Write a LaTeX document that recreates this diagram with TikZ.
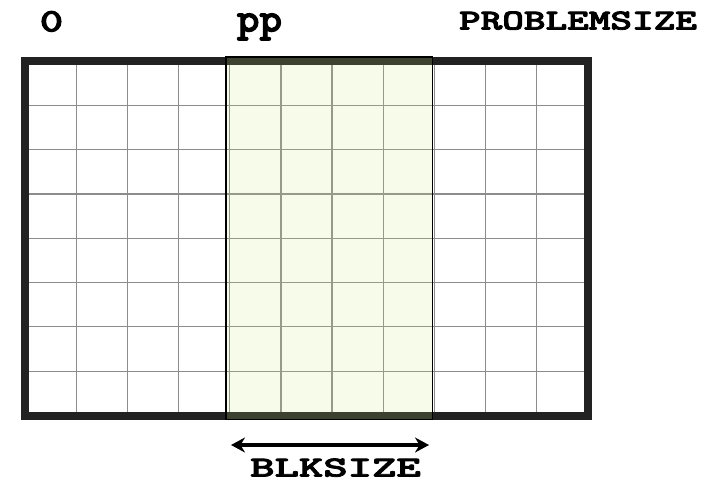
\documentclass[tikz,border=0pt]{standalone}
\usepackage{fontspec}
\usepackage{graphicx}
\newfontfamily\lmb{lmmonolt10-bold}[Extension=.otf, FakeBold=2.5]
\usetikzlibrary{arrows.meta}
\definecolor{frame}{HTML}{222222}
\definecolor{gridc}{HTML}{8C8C8C}
\definecolor{hl}{RGB}{203,229,119}
\newcommand{\wlbl}[2]{\scalebox{#1}[1]{#2}}
\tikzset{
  lbl/.style={inner sep=0pt, anchor=base, font=\lmb\fontsize{29}{29}\selectfont},
  lblbig/.style={inner sep=0pt, anchor=base, font=\lmb\fontsize{33}{33}\selectfont},
  lblp/.style={inner sep=0pt, anchor=base, font=\lmb\fontsize{41}{41}\selectfont},
  gridline/.style={draw=gridc, line width=1.2pt},
  framebox/.style={draw=frame, line width=8pt},
  hlbox/.style={fill=hl, fill opacity=0.16},
  hledge/.style={draw=black, line width=1.6pt},
  dimarrow/.style={{Stealth[length=14pt,width=15pt]}-{Stealth[length=14pt,width=15pt]}, line width=3.2pt}
}
\begin{document}
\begin{tikzpicture}[x=1pt,y=-1pt]
\useasboundingbox (0,0) rectangle (715,483);
% grid lines
\foreach \i in {1,...,10} {
  \draw[gridline] ({25+\i*51.18},61) -- ({25+\i*51.18},415.5);
}
\foreach \j in {1,...,7} {
  \draw[gridline] (25,{61+\j*44.31}) -- (588,{61+\j*44.31});
}
% frame
\draw[framebox] (25,61) rectangle (588,415.5);
% highlighted block
\fill[hlbox] (226,57) rectangle (433,419.5);
\draw[hledge] (226,57) rectangle (432.5,419.5);
% labels
\node[lblbig] (zero) at (51.5,31.5) {\wlbl{1.35}{0}};
\node[lblp] (pp) at (259.5,31.5) {\wlbl{1.05}{pp}};
\node[lbl] (psize) at (578,29.5) {\wlbl{1.42}{PROBLEMSIZE}};
% dimension arrow
\coordinate (al) at (231,445);
\coordinate (ar) at (429,445);
\draw[dimarrow] (al) -- (ar);
\node[lbl] (bsize) at (335.5,476.5) {\wlbl{1.6}{BLKSIZE}};
\end{tikzpicture}
\end{document}
